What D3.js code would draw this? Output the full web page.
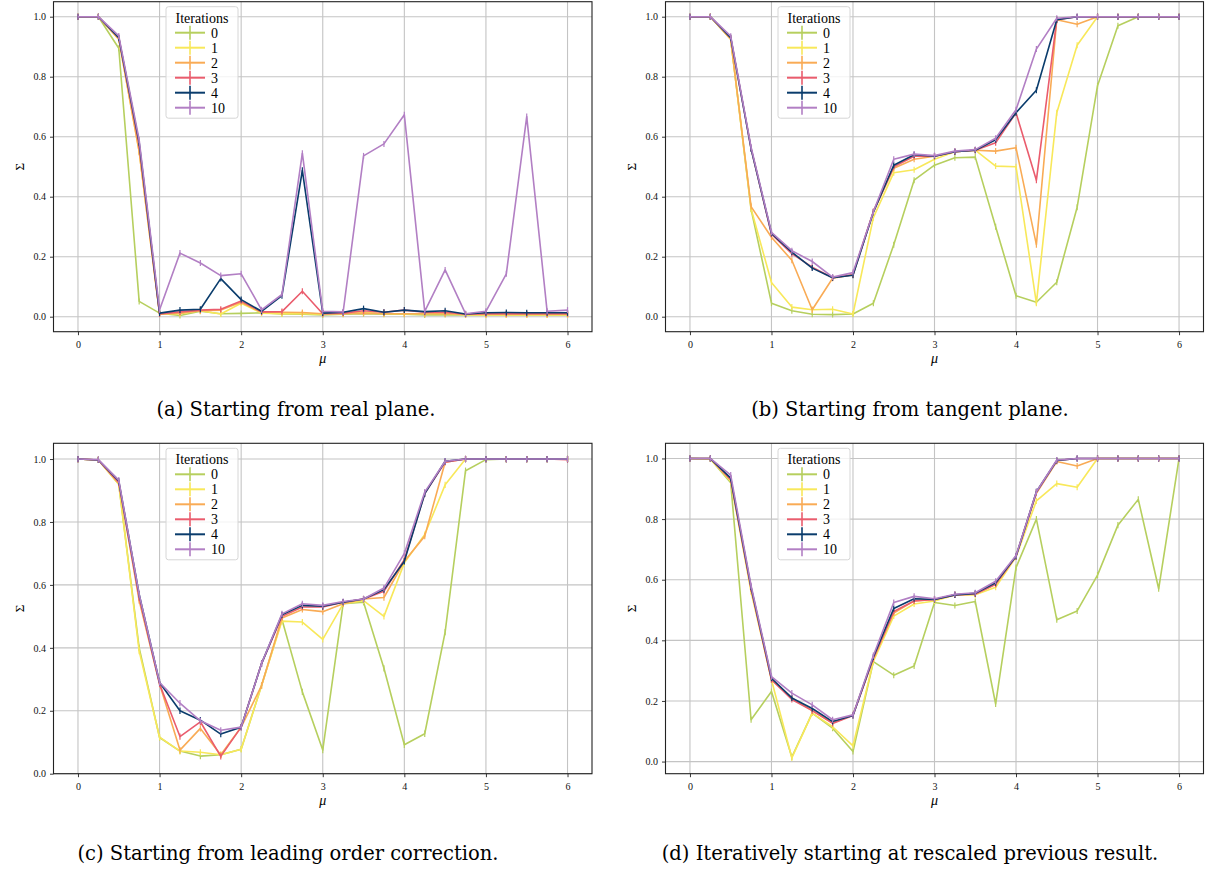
<!DOCTYPE html>
<html>
<head>
<meta charset="utf-8">
<script src="https://cdn.jsdelivr.net/npm/d3@7"></script>
<style>
  body { margin: 0; background: #fff; }
  text { font-family: "Liberation Serif", "DejaVu Serif", serif; }
</style>
</head>
<body>
<div id="chart"></div>
<script>
// mu grid and legend labels
const mu = [0, 0.25, 0.5, 0.75, 1, 1.25, 1.5, 1.75, 2, 2.25, 2.5, 2.75, 3, 3.25, 3.5, 3.75, 4, 4.25, 4.5, 4.75, 5, 5.25, 5.5, 5.75, 6];
const iterations = ["0", "1", "2", "3", "4", "10"];
const xTicks = [0, 1, 2, 3, 4, 5, 6];
const yTicks = [0, 0.2, 0.4, 0.6, 0.8, 1.0];
const errSize = 0.01;

// (a) starting from real plane, one row per iteration
const realPlane = [
  [1.0, 1.0, 0.895, 0.051, 0.012, 0.004, 0.018, 0.01, 0.011, 0.013, 0.009, 0.008, 0.006, 0.008, 0.01, 0.008, 0.008, 0.006, 0.007, 0.006, 0.006, 0.006, 0.006, 0.006, 0.006],
  [1.0, 1.0, 0.925, 0.55, 0.009, 0.01, 0.02, 0.009, 0.045, 0.012, 0.01, 0.01, 0.008, 0.01, 0.015, 0.01, 0.01, 0.01, 0.012, 0.006, 0.006, 0.006, 0.006, 0.006, 0.006],
  [1.0, 1.0, 0.925, 0.55, 0.009, 0.012, 0.02, 0.022, 0.048, 0.015, 0.015, 0.014, 0.01, 0.01, 0.012, 0.01, 0.01, 0.01, 0.01, 0.008, 0.008, 0.008, 0.008, 0.008, 0.008],
  [1.0, 1.0, 0.93, 0.57, 0.009, 0.016, 0.022, 0.025, 0.052, 0.016, 0.017, 0.085, 0.01, 0.012, 0.02, 0.015, 0.022, 0.015, 0.015, 0.008, 0.01, 0.01, 0.01, 0.01, 0.01],
  [1.0, 1.0, 0.93, 0.58, 0.012, 0.022, 0.025, 0.127, 0.057, 0.018, 0.07, 0.488, 0.012, 0.015, 0.027, 0.015, 0.022, 0.017, 0.02, 0.009, 0.013, 0.014, 0.013, 0.013, 0.013],
  [1.0, 1.0, 0.936, 0.589, 0.023, 0.212, 0.179, 0.137, 0.143, 0.023, 0.074, 0.545, 0.018, 0.016, 0.536, 0.576, 0.673, 0.018, 0.156, 0.01, 0.018, 0.143, 0.667, 0.018, 0.022]
];

// (b) starting from tangent plane
const tangentPlane = [
  [1, 1, 0.925, 0.358, 0.045, 0.02, 0.008, 0.007, 0.009, 0.045, 0.24, 0.455, 0.505, 0.53, 0.532, 0.30, 0.07, 0.048, 0.115, 0.365, 0.77, 0.97, 1.0, 1.0, 1.0],
  [1, 1, 0.925, 0.36, 0.114, 0.032, 0.023, 0.025, 0.009, 0.33, 0.48, 0.49, 0.525, 0.55, 0.555, 0.502, 0.5, 0.045, 0.68, 0.905, 1.0, 1, 1, 1, 1],
  [1, 1, 0.925, 0.367, 0.265, 0.188, 0.023, 0.128, 0.14, 0.35, 0.495, 0.525, 0.535, 0.55, 0.555, 0.552, 0.563, 0.24, 0.99, 0.975, 1, 1, 1, 1, 1],
  [1, 1, 0.93, 0.56, 0.275, 0.21, 0.165, 0.13, 0.14, 0.35, 0.5, 0.535, 0.535, 0.55, 0.555, 0.58, 0.68, 0.455, 0.99, 1, 1, 1, 1, 1, 1],
  [1, 1, 0.93, 0.56, 0.278, 0.215, 0.162, 0.13, 0.138, 0.348, 0.505, 0.54, 0.535, 0.55, 0.555, 0.59, 0.68, 0.755, 0.99, 1, 1, 1, 1, 1, 1],
  [1, 1, 0.935, 0.565, 0.281, 0.22, 0.184, 0.132, 0.147, 0.35, 0.525, 0.542, 0.537, 0.552, 0.557, 0.595, 0.69, 0.892, 0.995, 1, 1, 1, 1, 1, 1]
];

// (c) starting from leading order correction
const leadingOrder = [
  [1, 0.997, 0.92, 0.40, 0.115, 0.072, 0.056, 0.06, 0.078, 0.28, 0.49, 0.26, 0.075, 0.54, 0.545, 0.335, 0.092, 0.127, 0.45, 0.963, 0.998, 1, 1, 1, 1],
  [1, 0.997, 0.92, 0.39, 0.116, 0.072, 0.068, 0.06, 0.078, 0.28, 0.485, 0.482, 0.427, 0.54, 0.55, 0.50, 0.67, 0.76, 0.918, 1.0, 1, 1, 1, 1, 1],
  [1, 0.997, 0.925, 0.55, 0.285, 0.075, 0.144, 0.06, 0.148, 0.28, 0.495, 0.522, 0.515, 0.54, 0.555, 0.56, 0.675, 0.755, 0.99, 1, 1, 1, 1, 1, 1],
  [1, 0.997, 0.925, 0.56, 0.285, 0.118, 0.165, 0.055, 0.148, 0.35, 0.5, 0.53, 0.53, 0.545, 0.555, 0.58, 0.68, 0.89, 0.99, 1, 1, 1, 1, 1, 0.998],
  [1, 0.997, 0.93, 0.57, 0.29, 0.2, 0.17, 0.126, 0.148, 0.35, 0.505, 0.535, 0.532, 0.545, 0.555, 0.585, 0.675, 0.89, 0.993, 1, 1, 1, 1, 1, 1],
  [1, 0.998, 0.933, 0.57, 0.29, 0.224, 0.168, 0.138, 0.148, 0.35, 0.508, 0.54, 0.535, 0.547, 0.555, 0.59, 0.70, 0.895, 0.993, 1, 1, 1, 1, 1, 1]
];

// (d) iteratively starting at rescaled previous result
const rescaledPrev = [
  [1, 0.998, 0.92, 0.138, 0.231, 0.015, 0.16, 0.11, 0.033, 0.33, 0.285, 0.315, 0.525, 0.515, 0.528, 0.19, 0.64, 0.80, 0.468, 0.497, 0.615, 0.78, 0.865, 0.57, 1.0],
  [1, 0.998, 0.925, 0.56, 0.27, 0.012, 0.16, 0.115, 0.052, 0.33, 0.48, 0.52, 0.53, 0.55, 0.55, 0.575, 0.675, 0.86, 0.917, 0.905, 1, 1, 1, 1, 1],
  [1, 1, 0.93, 0.57, 0.27, 0.21, 0.168, 0.128, 0.154, 0.34, 0.49, 0.53, 0.535, 0.55, 0.553, 0.585, 0.677, 0.885, 0.99, 0.975, 1, 1, 1, 1, 1],
  [1, 1, 0.93, 0.57, 0.27, 0.205, 0.168, 0.126, 0.152, 0.34, 0.495, 0.53, 0.535, 0.55, 0.553, 0.585, 0.677, 0.888, 0.993, 1, 1, 1, 1, 1, 1],
  [1, 1, 0.935, 0.575, 0.275, 0.21, 0.175, 0.132, 0.152, 0.345, 0.505, 0.537, 0.535, 0.55, 0.555, 0.59, 0.677, 0.89, 0.993, 1, 1, 1, 1, 1, 1],
  [1, 1, 0.945, 0.58, 0.28, 0.226, 0.187, 0.138, 0.154, 0.35, 0.525, 0.545, 0.537, 0.552, 0.557, 0.595, 0.68, 0.89, 0.995, 1, 1, 1, 1, 1, 1]
];

const captions = [
  "(a) Starting from real plane.",
  "(b) Starting from tangent plane.",
  "(c) Starting from leading order correction.",
  "(d) Iteratively starting at rescaled previous result."
];

const colors = ["#b6cf5e", "#f8e85a", "#f9ab55", "#ea5c6d", "#0a3c6c", "#b27fc4"];

// panel frames (axes box in px) and y limits
const panels = [
  { data: realPlane,    left: 53.5,  top: 1.7,   right: 592,    bottom: 331.7, yDom: [-0.05, 1.05],  capX: 296, tickY: 348, muY: 363, capY: 416 },
  { data: tangentPlane, left: 665.5, top: 1.7,   right: 1203.5, bottom: 331.7, yDom: [-0.05, 1.05],  capX: 910, tickY: 348, muY: 363, capY: 416 },
  { data: leadingOrder, left: 53.5,  top: 443.3, right: 592,    bottom: 773.7, yDom: [0, 1.05],      capX: 288, tickY: 790, muY: 805, capY: 860 },
  { data: rescaledPrev, left: 665.5, top: 443.3, right: 1203.5, bottom: 773.7, yDom: [-0.04, 1.05],  capX: 910, tickY: 790, muY: 805, capY: 860 }
];

const svg = d3.select("#chart").append("svg")
  .attr("width", 1210)
  .attr("height", 871);

panels.forEach((p, pi) => {
  let x = d3.scaleLinear().domain([-0.3, 6.3]).range([p.left, p.right]);
  let y = d3.scaleLinear().domain(p.yDom).range([p.bottom, p.top]);

  let g = svg.append("g");

  // grid
  g.selectAll(".gx").data(xTicks).enter().append("line")
    .attr("x1", d => x(d)).attr("x2", d => x(d))
    .attr("y1", p.top).attr("y2", p.bottom)
    .attr("stroke", "#c4c4c4").attr("stroke-width", 1.1);
  g.selectAll(".gy").data(yTicks).enter().append("line")
    .attr("x1", p.left).attr("x2", p.right)
    .attr("y1", d => y(d)).attr("y2", d => y(d))
    .attr("stroke", "#c4c4c4").attr("stroke-width", 1.1);

  // series lines + small error bars
  let line = d3.line()
    .x((d, i) => x(mu[i]))
    .y(d => y(d));

  p.data.forEach((series, si) => {
    g.append("path")
      .datum(series)
      .attr("fill", "none")
      .attr("stroke", colors[si])
      .attr("stroke-width", 1.6)
      .attr("stroke-linejoin", "round")
      .attr("d", line);

    g.selectAll(".err" + si).data(series).enter().append("line")
      .attr("x1", (d, i) => x(mu[i])).attr("x2", (d, i) => x(mu[i]))
      .attr("y1", d => y(d - errSize)).attr("y2", d => y(d + errSize))
      .attr("stroke", colors[si])
      .attr("stroke-width", 1.2);
  });

  // axes
  let xAxis = d3.axisBottom(x).tickValues(xTicks).tickFormat(d3.format("d")).tickSize(3.5).tickPadding(6);
  let yAxis = d3.axisLeft(y).tickValues(yTicks).tickFormat(d3.format(".1f")).tickSize(3.5).tickPadding(4);

  let gx = g.append("g").attr("transform", "translate(0," + p.bottom + ")").call(xAxis);
  let gy = g.append("g").attr("transform", "translate(" + p.left + ",0)").call(yAxis);
  [gx, gy].forEach(a => {
    a.select(".domain").remove();
    a.selectAll(".tick line").attr("stroke", "#222").attr("stroke-width", 0.9);
    a.selectAll(".tick text")
      .attr("fill", "#111")
      .style("font-family", "'Liberation Serif', serif")
      .style("font-size", "10px");
  });

  // frame
  g.append("rect")
    .attr("x", p.left).attr("y", p.top)
    .attr("width", p.right - p.left).attr("height", p.bottom - p.top)
    .attr("fill", "none")
    .attr("stroke", "#222")
    .attr("stroke-width", 1.1);

  // axis labels
  g.append("text")
    .attr("x", (p.left + p.right) / 2)
    .attr("y", p.muY)
    .attr("text-anchor", "middle")
    .style("font-style", "italic")
    .style("font-size", "14px")
    .text("μ");

  g.append("text")
    .attr("transform", "translate(" + (p.left - 34) + "," + ((p.top + p.bottom) / 2) + ") rotate(-90)")
    .attr("text-anchor", "middle")
    .attr("dy", "0.35em")
    .style("font-size", "13px")
    .text("Σ");

  // legend
  let lx = p.left + 112.5, ly = p.top + 5;
  let legend = g.append("g").attr("transform", "translate(" + lx + "," + ly + ")");
  legend.append("rect")
    .attr("width", 72).attr("height", 111.5)
    .attr("rx", 2.5)
    .attr("fill", "#fff").attr("fill-opacity", 0.8)
    .attr("stroke", "#d6d6d6").attr("stroke-width", 1);
  legend.append("text")
    .attr("x", 36).attr("y", 11)
    .attr("dy", "0.35em")
    .attr("text-anchor", "middle")
    .style("font-size", "14px")
    .text("Iterations");

  let item = legend.selectAll(".item").data(iterations).enter().append("g")
    .attr("transform", (d, i) => "translate(0," + (26 + i * 15) + ")");
  item.append("line")
    .attr("x1", 9).attr("x2", 39)
    .attr("stroke", (d, i) => colors[i]).attr("stroke-width", 2);
  item.append("line")
    .attr("x1", 24).attr("x2", 24).attr("y1", -7).attr("y2", 7)
    .attr("stroke", (d, i) => colors[i]).attr("stroke-width", 1.6);
  item.append("text")
    .attr("x", 45)
    .attr("dy", "0.35em")
    .style("font-size", "14px")
    .text(d => d);

  // caption
  svg.append("text")
    .attr("x", p.capX)
    .attr("y", p.capY)
    .attr("text-anchor", "middle")
    .style("font-family", "'DejaVu Serif', serif")
    .style("font-size", "19.5px")
    .text(captions[pi]);
});
</script>
</body>
</html>
